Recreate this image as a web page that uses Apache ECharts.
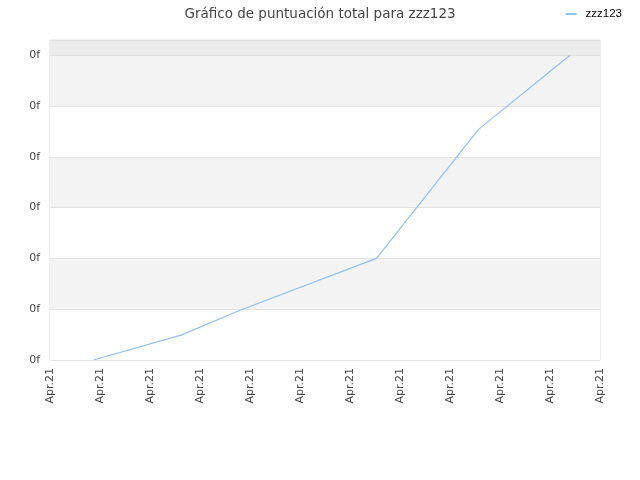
<!DOCTYPE html>
<html>
<head>
<meta charset="utf-8">
<script src="https://cdn.jsdelivr.net/npm/echarts@6/dist/echarts.min.js"></script>
<style>
  html, body { margin: 0; padding: 0; background: #fff; }
  #chart { width: 640px; height: 480px; }
</style>
</head>
<body>
<div id="chart"></div>
<script>
// positions along the date axis (one unit per label) and total score
const dayPos = [0.87, 2.62, 3.8, 6.53, 8.57, 10.4];
const scores = [0, 0.49, 0.98, 2.0, 4.54, 6.0];
const xLabel = 'Apr.21';
const yLabel = '0f';
const seriesName = 'zzz123';

const points = dayPos.map((x, i) => [x, scores[i]]);

const chart = echarts.init(document.getElementById('chart'), null, { renderer: 'canvas' });
chart.setOption({
  backgroundColor: '#fff',
  animation: false,
  title: {
    text: 'Gráfico de puntuación total para zzz123',
    left: 'center',
    top: 2,
    textStyle: { fontFamily: 'DejaVu Sans', fontSize: 13.5, fontWeight: 'normal', color: '#444' },
  },
  legend: {
    right: 13,
    top: 3,
    itemWidth: 11,
    itemHeight: 2,
    itemGap: 8,
    icon: 'rect',
    textStyle: { fontFamily: 'Liberation Sans', fontSize: 11.5, color: '#000', padding: [0, 0, 0, 4] },
    data: [seriesName],
  },
  grid: {
    left: 50, right: 40, top: 40, bottom: 120,
    show: true,
    borderColor: '#ddd',
    borderWidth: 1,
  },
  xAxis: {
    type: 'value',
    min: 0,
    max: 11,
    interval: 1,
    axisLine: { show: false },
    axisTick: { show: false },
    splitLine: { show: false },
    axisLabel: {
      rotate: 90,
      margin: 8,
      formatter: () => xLabel,
      fontFamily: 'DejaVu Sans',
      fontSize: 11,
      color: '#444',
    },
  },
  yAxis: {
    type: 'value',
    min: 0,
    max: 6.3,
    interval: 1,
    axisLine: { show: false },
    axisTick: { show: false },
    axisLabel: {
      margin: 10,
      formatter: () => yLabel,
      fontFamily: 'DejaVu Sans',
      fontSize: 11,
      color: '#444',
      showMaxLabel: false,
    },
    splitLine: { lineStyle: { color: '#e2e2e2', width: 1 } },
    splitArea: {
      show: true,
      areaStyle: { color: ['#fff', '#f3f3f3', '#fff', '#f3f3f3', '#fff', '#f3f3f3', '#ececec'] },
    },
  },
  series: [{
    name: seriesName,
    type: 'line',
    data: points,
    symbol: 'none',
    color: '#8fc0f2',
    lineStyle: { width: 1.2, color: '#8fc0f2' },
  }],
});
</script>
</body>
</html>
